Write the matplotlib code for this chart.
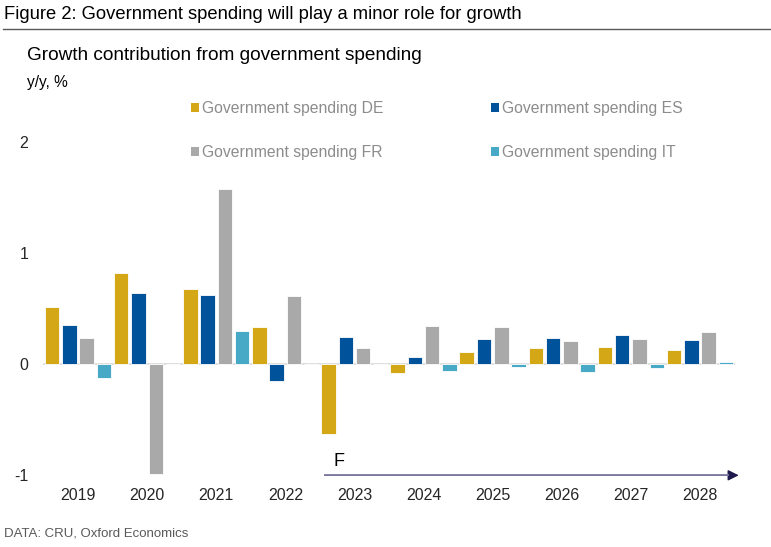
import numpy as np
import matplotlib.pyplot as plt
from matplotlib.patches import Patch
from matplotlib.lines import Line2D

plt.rcParams['font.family'] = ['Liberation Sans', 'DejaVu Sans']

years = ['2019', '2020', '2021', '2022', '2023', '2024', '2025', '2026', '2027', '2028']
de = [0.52, 0.825, 0.675, 0.34, -0.63, -0.08, 0.11, 0.147, 0.16, 0.13]
es = [0.35, 0.645, 0.62, -0.15, 0.25, 0.063, 0.23, 0.237, 0.26, 0.22]
fr = [0.24, -0.99, 1.58, 0.615, 0.15, 0.345, 0.34, 0.213, 0.225, 0.29]
it = [-0.12, 0.0, 0.30, 0.0, 0.0, -0.06, -0.02, -0.07, -0.03, 0.018]

names = ['Government spending DE', 'Government spending ES',
         'Government spending FR', 'Government spending IT']
colors = ['#D4A717', '#00529B', '#A9A9A9', '#47A9C5']

fig = plt.figure(figsize=(7.71, 5.47), dpi=100)
ax = fig.add_axes([0.0564, 0.1311, 0.8963, 0.6088])

x = np.arange(len(years))
series = [de, es, fr, it]
offs = [-0.375, -0.125, 0.125, 0.375]
for vals, off, c in zip(series, offs, colors):
    ax.bar(x + off, vals, width=0.21, color=c, edgecolor='white', linewidth=0.6, zorder=2)

ax.axhline(0, color='#D9D9D9', lw=1.2, zorder=1)
ax.set_xlim(-0.5, len(years) - 0.5)
ax.set_ylim(-1, 2)
ax.set_yticks([-1, 0, 1, 2])
ax.set_yticklabels(['-1', '0', '1', '2'])
ax.set_xticks(x)
ax.set_xticklabels(years)
ax.tick_params(length=0, labelsize=11.5, colors='#262626')
ax.tick_params(axis='y', pad=11)
ax.tick_params(axis='x', pad=9)
for s in ax.spines.values():
    s.set_visible(False)

# forecast arrow
ax.annotate('', xy=(9.56, -1), xytext=(3.57, -1), annotation_clip=False,
            arrowprops=dict(arrowstyle='-|>', color='#1F1A4D', lw=1.0,
                            mutation_scale=16, shrinkA=0, shrinkB=0))
ax.plot([3.57, 9.4], [-1, -1], color='#8481A6', lw=1.3, clip_on=False, zorder=3)
ax.text(3.7, -0.88, 'F', fontsize=13, color='black', ha='left', va='center')

handles = [Patch(facecolor=c, edgecolor='none') for c in colors]
order = [0, 2, 1, 3]
leg = fig.legend([handles[i] for i in order], [names[i] for i in order],
                 ncol=2, loc='upper left', bbox_to_anchor=(0.229, 0.841),
                 frameon=False, fontsize=11.3, handlelength=0.5, handleheight=0.5,
                 handletextpad=0.2, columnspacing=6.9, labelspacing=1.82)
for t in leg.get_texts():
    t.set_color('#8C8C8C')

fig.text(0.005, 0.974, 'Figure 2: Government spending will play a minor role for growth',
         fontsize=13.2, va='center', ha='left', color='black')
fig.add_artist(Line2D([0.004, 1.0], [0.947, 0.947], color='#595959', lw=1.0))
fig.text(0.035, 0.898, 'Growth contribution from government spending',
         fontsize=13.7, va='center', ha='left', color='black')
fig.text(0.035, 0.850, 'y/y, %', fontsize=11.2, va='center', ha='left', color='black')
fig.text(0.005, 0.025, 'DATA: CRU, Oxford Economics', fontsize=9.5, va='center',
         ha='left', color='#595959')

fig.savefig('out.png', dpi=100)
